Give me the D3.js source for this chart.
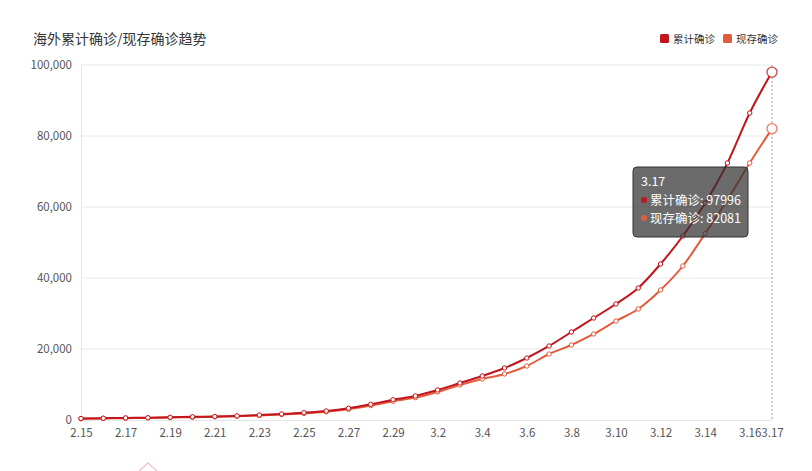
<!DOCTYPE html>
<html>
<head>
<meta charset="utf-8">
<script src="https://cdn.jsdelivr.net/npm/d3@7"></script>
<style>
  html, body { margin: 0; padding: 0; background: #fff; }
  svg { display: block; font-family: "Microsoft YaHei", "Noto Sans CJK SC", sans-serif; }
</style>
</head>
<body>
<div id="chart"></div>
<script>
// Data
const dates = ['2.15','2.16','2.17','2.18','2.19','2.20','2.21','2.22','2.23','2.24','2.25','2.26','2.27','2.28','2.29',
  '3.1','3.2','3.3','3.4','3.5','3.6','3.7','3.8','3.9','3.10','3.11','3.12','3.13','3.14','3.15','3.16','3.17'];
const cumulative = [400, 500, 580, 640, 750, 900, 1000, 1150, 1400, 1700, 2060, 2540, 3300, 4420, 5720,
  6760, 8450, 10420, 12390, 14650, 17460, 20850, 24790, 28730, 32680, 37180, 43940, 51830, 61100, 72390, 86480, 97996];
const existing = [350, 450, 520, 580, 680, 800, 900, 1050, 1280, 1550, 1850, 2300, 3000, 4050, 5300,
  6300, 7900, 9860, 11550, 12960, 15210, 18590, 21130, 24230, 27890, 31270, 36620, 43380, 52500, 62000, 72390, 82081];
const tickLabels = ['2.15','2.17','2.19','2.21','2.23','2.25','2.27','2.29','3.2','3.4','3.6','3.8','3.10','3.12','3.14','3.16','3.17'];
const yTicks = [0, 20000, 40000, 60000, 80000, 100000];
const seriesNames = ['累计确诊', '现存确诊'];
const colors = ['#c1141b', '#e35b3d'];

const width = 812, height = 471;
const margin = { top: 65, right: 40, bottom: 51, left: 81 };

const svg = d3.select('#chart').append('svg')
  .attr('width', width).attr('height', height);

const x = d3.scalePoint().domain(dates).range([margin.left, 772]);
const y = d3.scaleLinear().domain([0, 100000]).range([height - margin.bottom, margin.top]);

// Title
svg.append('text')
  .attr('x', 33).attr('y', 44)
  .text('海外累计确诊/现存确诊趋势')
  .attr('fill', '#333')
  .style('font-size', '14px');

// Legend
const legendX = [660, 723];
seriesNames.forEach((name, i) => {
  svg.append('rect')
    .attr('x', legendX[i]).attr('y', 34)
    .attr('width', 9).attr('height', 9).attr('rx', 1.5)
    .attr('fill', colors[i]);
  svg.append('text')
    .attr('x', legendX[i] + 13).attr('y', 42.5)
    .text(name)
    .attr('fill', '#333')
    .style('font-size', '10.5px');
});

// Grid lines
svg.append('g')
  .selectAll('line')
  .data(yTicks.filter(d => d > 0))
  .join('line')
  .attr('x1', margin.left).attr('x2', 772)
  .attr('y1', d => y(d)).attr('y2', d => y(d))
  .attr('stroke', '#e8e8e8').attr('stroke-width', 1);

// Y axis
const yAxis = svg.append('g')
  .attr('transform', `translate(${margin.left},0)`)
  .call(d3.axisLeft(y).tickValues(yTicks).tickSize(0).tickPadding(9).tickFormat(d3.format(',')));
yAxis.select('.domain').attr('stroke', '#e6e6e6');
yAxis.selectAll('text').attr('fill', '#555').style('font-size', '11.5px')
  .style('font-family', '"Microsoft YaHei", "Noto Sans CJK SC", sans-serif');

// X axis
const xAxis = svg.append('g')
  .attr('transform', `translate(0,${y(0)})`)
  .call(d3.axisBottom(x).tickValues(tickLabels).tickSize(0).tickPadding(9));
xAxis.select('.domain').attr('stroke', '#e6e6e6');
xAxis.selectAll('text').attr('fill', '#555').style('font-size', '11.5px')
  .style('font-family', '"Microsoft YaHei", "Noto Sans CJK SC", sans-serif');

// Axis pointer on last date
const lastDate = dates[dates.length - 1];
svg.append('line')
  .attr('x1', x(lastDate)).attr('x2', x(lastDate))
  .attr('y1', margin.top).attr('y2', y(0))
  .attr('stroke', '#999').attr('stroke-width', 1)
  .attr('stroke-dasharray', '2,2');

// Lines
const line = d3.line()
  .x((d, i) => x(dates[i]))
  .y(d => y(d))
  .curve(d3.curveMonotoneX);

const allSeries = [existing, cumulative];
const allColors = [colors[1], colors[0]];
allSeries.forEach((vals, si) => {
  svg.append('path')
    .datum(vals)
    .attr('d', line)
    .attr('fill', 'none')
    .attr('stroke', allColors[si])
    .attr('stroke-width', 2);

  svg.append('g')
    .selectAll('circle')
    .data(vals)
    .join('circle')
    .attr('cx', (d, i) => x(dates[i]))
    .attr('cy', d => y(d))
    .attr('r', (d, i) => i === vals.length - 1 ? 5 : 2.2)
    .attr('fill', '#fff')
    .attr('stroke', allColors[si])
    .attr('stroke-opacity', (d, i) => i === vals.length - 1 ? 0.75 : 1)
    .attr('stroke-width', (d, i) => i === vals.length - 1 ? 1.4 : 1);
});

// Tooltip
const tipX = x(lastDate) - 139, tipY = 167;
const tip = svg.append('g').attr('transform', `translate(${tipX},${tipY})`);
tip.append('rect')
  .attr('width', 115).attr('height', 70).attr('rx', 4)
  .attr('fill', 'rgba(50,50,50,0.72)')
  .attr('stroke', '#333').attr('stroke-width', 1);
tip.append('text')
  .attr('x', 8).attr('y', 19)
  .text(lastDate)
  .attr('fill', '#fff')
  .style('font-size', '12.5px');
seriesNames.forEach((name, i) => {
  const v = i === 0 ? cumulative[cumulative.length - 1] : existing[existing.length - 1];
  tip.append('circle')
    .attr('cx', 11).attr('cy', 33 + i * 18)
    .attr('r', 3).attr('fill', colors[i]);
  tip.append('text')
    .attr('x', 17).attr('y', 38 + i * 18)
    .text(`${name}: ${v}`)
    .attr('fill', '#fff')
    .style('font-size', '12.5px');
});

// faint marker at bottom edge
svg.append('path')
  .attr('d', 'M139,471 L148,463 L157,471')
  .attr('fill', 'none')
  .attr('stroke', '#f3c6cc')
  .attr('stroke-width', 1.5);
</script>
</body>
</html>
